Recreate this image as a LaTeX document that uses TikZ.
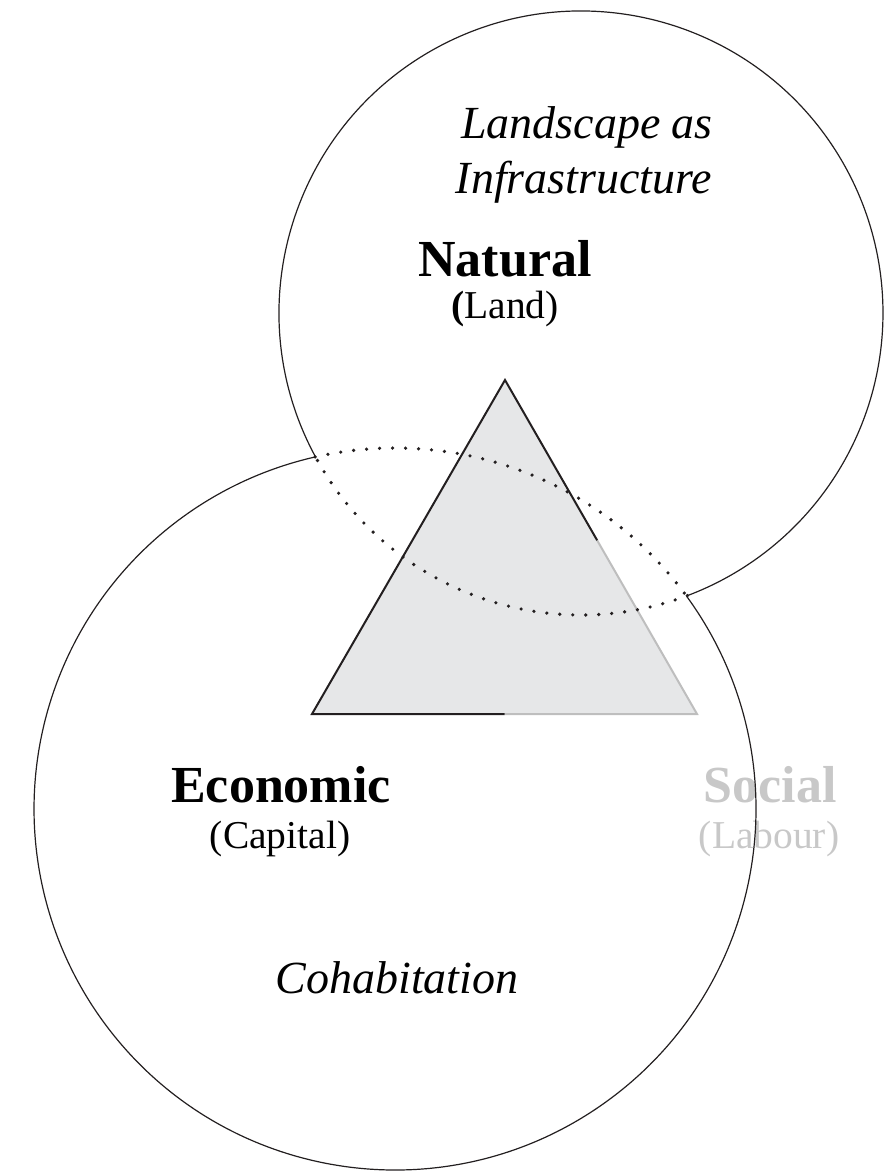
\documentclass[tikz,border=0pt]{standalone}
\usepackage{fontspec}
\setmainfont{Liberation Serif}
\usetikzlibrary{calc}
\definecolor{inkblack}{RGB}{35,31,32}
\definecolor{fillgrey}{RGB}{230,231,232}
\definecolor{edgegrey}{RGB}{190,190,190}
\definecolor{textgrey}{RGB}{200,200,200}
\begin{document}
\begin{tikzpicture}[x=0.75pt,y=0.75pt,yscale=-1,xscale=1,
  solidarc/.style={draw=inkblack,line width=0.9pt},
  dotarc/.style={draw=inkblack,line width=2.7pt,line cap=round,dash pattern=on 0pt off 9.75pt},
  darkedge/.style={draw=inkblack,line width=1.5pt},
  lightedge/.style={draw=edgegrey,line width=1.5pt},
  boldlabel/.style={anchor=base,inner sep=0.75pt,font=\fontsize{39}{47}\selectfont\bfseries},
  sublabel/.style={anchor=base,inner sep=0.75pt,font=\fontsize{29.6}{36}\selectfont},
  itlabel/.style={anchor=base,inner sep=0.75pt,font=\fontsize{34.5}{41}\selectfont\itshape}]
\useasboundingbox (0,0) rectangle (884,1171);

% Text Node
\node[itlabel] (landscape) at (587,138) {Landscape as};
% Text Node
\node[itlabel] (infra) at (584,193) {Infrastructure};
% Text Node
\node[boldlabel] (natural) at (505,276) {Natural};
% Text Node
\node[sublabel] (land) at (505,318) {\textbf{(}Land)};
% Text Node
\node[boldlabel] (economic) at (281,802) {Economic};
% Text Node
\node[sublabel] (capital) at (280,848) {(Capital)};
% Text Node
\node[boldlabel,text=textgrey] (social) at (770,802) {Social};
% Text Node
\node[sublabel,text=textgrey] (labour) at (769,848) {(Labour)};
% Text Node
\node[itlabel] (cohab) at (397,993) {Cohabitation};

%Shape: Triangle
\coordinate (apex) at (505,380);
\coordinate (botL) at (312,714);
\coordinate (botR) at (697,714);
\fill[fillgrey] (apex) -- (botR) -- (botL) -- cycle;
\draw[lightedge] ($(apex)!0.48!(botR)$) -- (botR) -- ($(botL)!0.5!(botR)$);
\draw[darkedge] ($(apex)!0.48!(botR)$) -- (apex) -- (botL) -- ($(botL)!0.5!(botR)$);

%Shape: Circle (Natural)
\coordinate (upc) at (581,313);
\draw[solidarc] (upc) ++(151.74:302) arc (151.74:429.37:302);
\draw[dotarc] (upc) ++(69.37:302) arc (69.37:151.74:302);
%Shape: Circle (Economic)
\coordinate (lowc) at (395,809);
\draw[solidarc] (lowc) ++(323.88:361) arc (323.88:617.23:361);
\draw[dotarc] (lowc) ++(257.23:361) arc (257.23:323.88:361);

\end{tikzpicture}
\end{document}
